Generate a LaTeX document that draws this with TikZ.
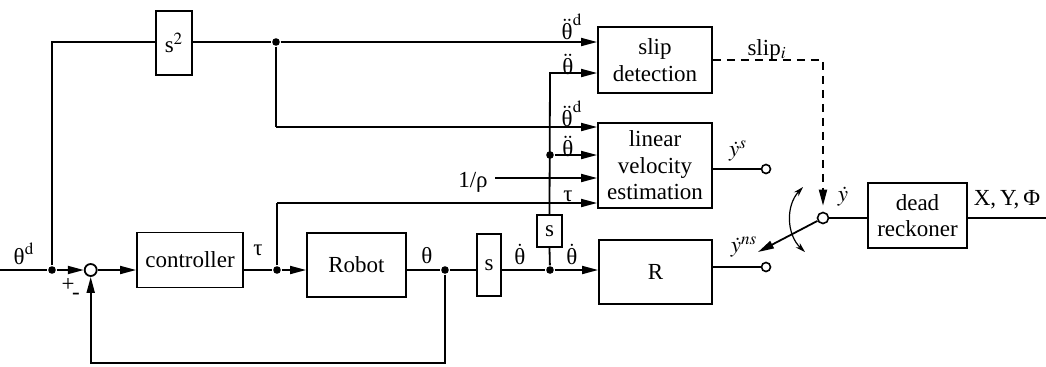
\documentclass[tikz,border=0pt]{standalone}
\usepackage{mathptmx}
\usepackage[no-math]{fontspec}
\setmainfont{Liberation Serif}
\usetikzlibrary{arrows.meta}
\newcommand{\uth}{{\hbox{θ}}}
\begin{document}
\begin{tikzpicture}[x=0.5pt,y=-0.5pt, line width=0.9pt,
 blk/.style={draw, inner sep=0pt, align=center, font=\fontsize{11.5}{13.3}\selectfont},
 arr/.style={-{Triangle[length=8pt,width=4pt]}},
 dot/.style={circle, fill, inner sep=0pt, minimum size=3.8pt},
 term/.style={circle, draw, fill=white, inner sep=0pt, minimum size=4.5pt, line width=0.8pt},
 lbl/.style={inner sep=0pt, font=\fontsize{11.5}{13}\selectfont}]
\useasboundingbox (0,0) rectangle (1046,366);
% blocks
\node[blk, minimum width=18pt, minimum height=32pt] (s2) at (174,43) {s$^2$};
\node[blk, minimum width=53pt, minimum height=27.5pt] (ctrl) at (190,260) {controller};
\node[blk, minimum width=49.5pt, minimum height=32pt] (robot) at (356.5,265) {Robot};
\node[blk, minimum width=12pt, minimum height=31pt] (sb) at (489,265) {s};
\node[blk, minimum width=12.5pt, minimum height=16pt] (ss) at (549.5,231) {s};
\node[blk, minimum width=57pt, minimum height=33pt] (slip) at (655,60) {slip\\detection};
\node[blk, minimum width=57pt, minimum height=42.5pt] (lin) at (655,165.5) {linear\\velocity\\estimation};
\node[blk, minimum width=56.5pt, minimum height=32pt] (R) at (655.5,272) {R};
\node[blk, minimum width=49.5pt, minimum height=32.5pt] (dead) at (917.5,215.5) {dead\\reckoner};
\node[circle, draw, inner sep=0pt, minimum size=6pt] (sum) at (90.7,270) {};
% points
\coordinate (in) at (0,270);
\node[dot] (j1) at (52,270) {};
\coordinate (c1) at (52,42);
\node[dot] (j2) at (276,42) {};
\coordinate (c2) at (276,127);
\node[dot] (j3) at (277,270) {};
\coordinate (c3) at (277,203);
\node[dot] (j4) at (445,270) {};
\coordinate (c4) at (445,363);
\coordinate (c5) at (90.7,363);
\node[dot] (j5) at (550,270) {};
\coordinate (c6) at (550,73);
\node[dot] (j6) at (550,155) {};
\coordinate (rho) at (495,178);
\node[term] (ys) at (766,169) {};
\node[term] (yns) at (766,267) {};
\node[term, minimum size=5.5pt] (piv) at (823,218) {};
\coordinate (c7) at (823,60);
\coordinate (out) at (1046,218);
\coordinate (arm) at (758,252);
\coordinate (a1) at (803,187);
\coordinate (a2) at (805,252);
% connectors
\draw (in) -- (j1);
\draw[arr] (j1) -- (sum);
\draw (j1) -- (c1) -- (s2.west |- c1);
\draw (s2.east |- j2) -- (j2);
\draw[arr] (j2) -- (slip.west |- j2);
\draw (j2) -- (c2);
\draw[arr] (c2) -- (lin.west |- c2);
\draw[arr] (sum) -- (ctrl.west |- sum);
\draw (ctrl.east |- j3) -- (j3);
\draw[arr] (j3) -- (robot.west |- j3);
\draw (j3) -- (c3);
\draw[arr] (c3) -- (lin.west |- c3);
\draw (robot.east |- j4) -- (j4) -- (sb.west |- j4);
\draw[arr] (j4) -- (c4) -- (c5) -- (sum);
\draw (sb.east |- j5) -- (j5);
\draw[arr] (j5) -- (R.west |- j5);
\draw (j5) -- (ss.south);
\draw[arr] (ss.north) -- (c6) -- (slip.west |- c6);
\draw[arr] (j6) -- (lin.west |- j6);
\draw[arr] (rho) -- (lin.west |- rho);
\draw (lin.east |- ys) -- (ys);
\draw (R.east |- yns) -- (yns);
\draw[dash pattern=on 4pt off 3pt, arr, shorten >=3pt] (slip.east) -- (c7) -- (piv);
\draw (piv) -- (dead.west |- piv);
\draw (dead.east |- out) -- (out);
\draw[arr] (piv) -- (arm);
\draw[{Stealth[length=5pt,width=3pt]}-{Stealth[length=5pt,width=3pt]}, line width=0.6pt] (a1) to[bend right=45] (a2);
% labels
\node[lbl] (L1) at (24,254) {$\uth^{\mathrm d}$};
\node[lbl] (L2) at (68,285) {+};
\node[lbl] (L3) at (76,296) {-};
\node[lbl] (L4) at (258,250) {τ};
\node[lbl] (L5) at (427,256) {θ};
\node[lbl] (L6) at (520,254) {$\dot{\uth}$};
\node[lbl] (L7) at (572,254) {$\dot{\uth}$};
\node[lbl] (L8) at (572,27) {$\ddot{\uth}^{\mathrm d}$};
\node[lbl] (L9) at (568,64) {$\ddot{\uth}$};
\node[lbl] (L10) at (572,114) {$\ddot{\uth}^{\mathrm d}$};
\node[lbl] (L11) at (568,146) {$\ddot{\uth}$};
\node[lbl] (L12) at (568,196) {τ};
\node[lbl] (L13) at (473,182) {1/ρ};
\node[lbl] (L14) at (767,50) {slip$_i$};
\node[lbl] (L15) at (738,151) {$\dot y^s$};
\node[lbl] (L16) at (744,247) {$\dot y^{ns}$};
\node[lbl] (L17) at (843,197) {$\dot y$};
\node[lbl] (L18) at (1007,200) {X,\,Y,\,Φ};
\end{tikzpicture}
\end{document}
